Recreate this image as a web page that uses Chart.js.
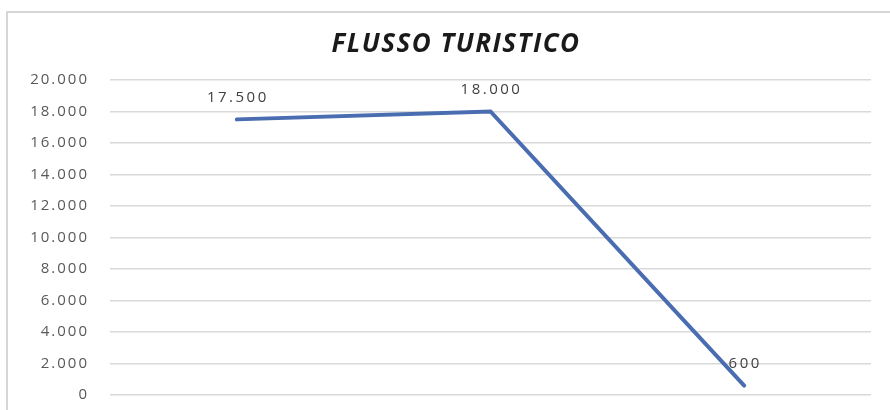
<!DOCTYPE html>
<html>
<head>
<meta charset="utf-8">
<title>Flusso turistico</title>
<script src="https://cdn.jsdelivr.net/npm/chart.js@4/dist/chart.umd.min.js"></script>
<style>
    html, body { margin: 0; padding: 0; background: #fff; overflow: hidden; }
    .wrap { position: relative; width: 890px; height: 410px; overflow: hidden; }
    .frame {
        position: absolute; left: 6px; top: 11px; width: 900px; height: 420px;
        border: 2px solid #d6d6d6; box-sizing: border-box;
    }
    canvas { position: absolute; left: 0; top: 0; }
</style>
</head>
<body>
<div class="wrap">
    <div class="frame"></div>
    <canvas id="chart" width="890" height="410"></canvas>
</div>
<script>
const chartTitle = 'FLUSSO TURISTICO';

// Visitors per period
const periods = ['1', '2', '3'];
const visitors = [17500, 18000, 600];

// Y axis range
const yMin = 0;
const yMax = 20000;
const yStep = 2000;

const fmt = (v) => v.toLocaleString('it-IT');

// Slightly spaced lettering for the axis text
const spacing = {
    id: 'spacing',
    beforeDraw(chart) {
        chart.ctx.letterSpacing = '2px';
    }
};

// Title, centred over the whole frame
const titleText = {
    id: 'titleText',
    afterDraw(chart) {
        const { ctx } = chart;
        ctx.save();
        ctx.letterSpacing = '1.5px';
        ctx.font = 'italic bold 26px "Open Sans", sans-serif';
        ctx.fillStyle = '#1a1a1a';
        ctx.textAlign = 'center';
        ctx.textBaseline = 'middle';
        ctx.fillText(chartTitle, 456, 45);
        ctx.restore();
    }
};

// Writes the value above each point of the line
const valueLabels = {
    id: 'valueLabels',
    afterDatasetsDraw(chart) {
        const { ctx } = chart;
        const meta = chart.getDatasetMeta(0);
        ctx.save();
        ctx.letterSpacing = '2.5px';
        ctx.font = '15px "Open Sans", sans-serif';
        ctx.fillStyle = '#404040';
        ctx.textAlign = 'center';
        ctx.textBaseline = 'middle';
        meta.data.forEach((pt, i) => {
            ctx.fillText(fmt(visitors[i]), pt.x + 1, pt.y - 21.5);
        });
        ctx.restore();
    }
};

new Chart(document.getElementById('chart'), {
    type: 'line',
    data: {
        labels: periods,
        datasets: [{
            data: visitors,
            borderColor: '#4a6cb0',
            borderWidth: 4,
            borderCapStyle: 'round',
            tension: 0,
            pointRadius: 0,
            fill: false
        }]
    },
    options: {
        responsive: false,
        animation: false,
        layout: {
            padding: { left: 16, right: 19, top: 80, bottom: 15 }
        },
        plugins: {
            legend: { display: false },
            tooltip: { enabled: false },
            title: { display: false }
        },
        scales: {
            x: {
                display: false,
                offset: true
            },
            y: {
                min: yMin,
                max: yMax,
                afterFit: (scale) => { scale.width = 94; },
                border: { display: false },
                grid: {
                    color: '#d9d9d9',
                    lineWidth: 1.5,
                    drawTicks: true,
                    tickLength: 21,
                    tickColor: 'rgba(0,0,0,0)'
                },
                ticks: {
                    stepSize: yStep,
                    padding: 0,
                    color: '#595959',
                    font: { family: '"Open Sans", sans-serif', size: 15 },
                    callback: (v) => fmt(v)
                }
            }
        }
    },
    plugins: [spacing, titleText, valueLabels]
});
</script>
</body>
</html>
